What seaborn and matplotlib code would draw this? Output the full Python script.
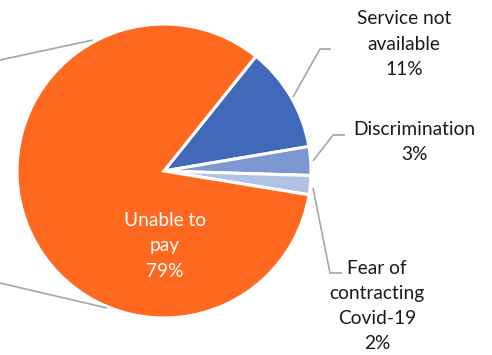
import matplotlib
matplotlib.use("Agg")
import matplotlib.pyplot as plt
import seaborn as sns
import pandas as pd

categories = ["Service not\navailable", "Discrimination", "Fear of\ncontracting\nCovid-19", "Unable to\npay"]
values = [11, 3, 2, 79]
colors = ["#4169B9", "#7D98D1", "#B0C2E6", "#FE691F"]

df = pd.DataFrame({"category": categories, "value": values})

sns.set_theme(style="white")
plt.rcParams["font.family"] = ["Lato", "DejaVu Sans"]

W, H = 492, 355
fig = plt.figure(figsize=(W / 100, H / 100), dpi=100)
ax = fig.add_axes([0, 0, 1, 1])

cx, cy, r = 164, H - 171, 147
wedges, _ = ax.pie(df["value"], colors=colors, startangle=51.3, counterclock=False,
                   center=(cx, cy), radius=r, frame=True,
                   wedgeprops=dict(edgecolor="white", linewidth=2.2))
ax.set_xlim(0, W)
ax.set_ylim(0, H)
ax.set_aspect("equal")
ax.axis("off")

def px(x, y):
    return (x, H - y)

fs = 13.8
ls = 1.58
lc = "#A6A6A6"

lab = [f"{c}\n{v}%" for c, v in zip(df["category"], df["value"])]
ax.text(*px(404, 44), lab[0], ha="center", va="center", fontsize=fs, linespacing=ls, color="#1a1a1a")
ax.text(*px(414, 142), lab[1], ha="center", va="center", fontsize=fs, linespacing=ls, color="#1a1a1a")
ax.text(*px(377, 306), lab[2], ha="center", va="center", fontsize=fs, linespacing=ls, color="#1a1a1a")
ax.text(*px(165, 246), lab[3], ha="center", va="center", fontsize=fs, linespacing=ls, color="white")

def poly(pts):
    xs = [p[0] for p in pts]
    ys = [H - p[1] for p in pts]
    ax.plot(xs, ys, color=lc, lw=1.2, solid_capstyle="butt")

poly([(293, 97), (320, 49), (331, 49)])
poly([(313, 161), (333, 135), (345, 135)])
poly([(313, 188), (330, 273), (342, 273)])
poly([(0, 60), (93, 40)])
poly([(0, 283), (107, 308)])

fig.savefig("out.png", dpi=100, facecolor="white")
